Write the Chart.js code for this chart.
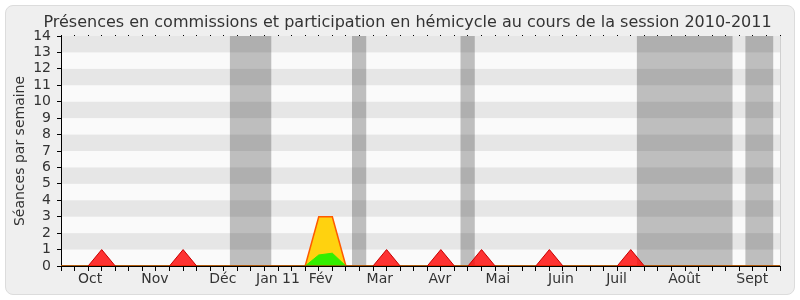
<!DOCTYPE html>
<html>
<head>
<meta charset="utf-8">
<script src="https://cdn.jsdelivr.net/npm/chart.js"></script>
<style>
html, body { margin: 0; padding: 0; background: #fff; }
#wrap { position: relative; width: 800px; height: 300px; }
#panel { position: absolute; left: 5px; top: 5px; width: 788px; height: 288px; background: #efefef; border: 1px solid #dcdcdc; border-radius: 8px; }
#chart { position: absolute; left: 0; top: 0; }
</style>
</head>
<body>
<div id="wrap"><div id="panel"></div><canvas id="chart" width="800" height="300"></canvas></div>
<script>
// weeks of the session, 0 = start of October 2010
let weeks = []
for (let i = 0; i <= 53; i++) weeks.push(i)

let title = 'Présences en commissions et participation en hémicycle au cours de la session 2010-2011'
let monthLabels = ['Oct','Nov','Déc','Jan 11','Fév','Mar','Avr','Mai','Juin','Juil','Août','Sept']
let monthPos = [2.14, 6.92, 11.93, 15.99, 19.15, 23.5, 27.93, 32.2, 36.85, 40.95, 45.95, 50.95]

// parliamentary holidays (in weeks)
let vacStart = [12.45, 21.45, 29.45, 42.45, 50.45]
let vacEnd   = [15.5, 22.5, 30.5, 49.5, 52.5]

let hemicycle = [0,0,0,1,0,0,0,0,0,1,
                 0,0,0,0,0,0,0,0,0,0,
                 0,0,0,0,1,0,0,0,1,0,
                 0,1,0,0,0,0,1,0,0,0,
                 0,0,1,0,0,0,0,0,0,0,
                 0,0,0,0]
let commissions = [0,0,0,0,0,0,0,0,0,0,
                   0,0,0,0,0,0,0,0,0,3,
                   3,0,0,0,0,0,0,0,0,0,
                   0,0,0,0,0,0,0,0,0,0,
                   0,0,0,0,0,0,0,0,0,0,
                   0,0,0,0]
let interventions = [0,0,0,0,0,0,0,0,0,0,
                     0,0,0,0,0,0,0,0,0,0.67,
                     0.78,0,0,0,0,0,0,0,0,0,
                     0,0,0,0,0,0,0,0,0,0,
                     0,0,0,0,0,0,0,0,0,0,
                     0,0,0,0]

const FONT = 'DejaVu Sans'
const pts = arr => arr.map((v, i) => ({x: weeks[i], y: v}))

const backdrop = {
  id: 'backdrop',
  beforeDraw(chart) {
    const {ctx, chartArea: a, scales: {x, y}} = chart
    ctx.save()
    ctx.fillStyle = '#fafafa'
    ctx.fillRect(a.left, a.top, a.right - a.left, a.bottom - a.top)
    ctx.fillStyle = '#bebebe'
    vacStart.forEach((s, i) => {
      const x0 = x.getPixelForValue(s), x1 = x.getPixelForValue(vacEnd[i])
      ctx.fillRect(x0, a.top, x1 - x0, a.bottom - a.top)
    })
    ctx.fillStyle = 'rgba(0,0,0,0.08)'
    for (let v = 1; v < 14; v += 2) {
      const y0 = y.getPixelForValue(v + 1), y1 = y.getPixelForValue(v)
      ctx.fillRect(a.left, y0, a.right - a.left, y1 - y0)
    }
    ctx.strokeStyle = '#d0d0d0'
    ctx.beginPath()
    ctx.moveTo(a.right + 0.5, a.top)
    ctx.lineTo(a.right + 0.5, a.bottom)
    ctx.stroke()
    ctx.restore()
  },
  afterDraw(chart) {
    const ctx = chart.ctx
    ctx.save()
    ctx.font = '16px "' + FONT + '"'
    ctx.fillStyle = '#333'
    ctx.textAlign = 'center'
    ctx.textBaseline = 'alphabetic'
    ctx.fillText(title, 407.5, 26.7)
    ctx.restore()
  }
}

let chart = new Chart(document.getElementById('chart'), {
  type: 'line',
  data: {
    datasets: [
      {label: 'Hémicycle', data: pts(hemicycle), fill: 'origin',
       backgroundColor: 'rgba(255,0,0,0.8)', borderColor: '#c80000', borderWidth: 1},
      {label: 'Interventions', data: pts(interventions), fill: 'origin',
       backgroundColor: '#33ee00', borderColor: '#33ee00', borderWidth: 1},
      {label: 'Commissions', data: pts(commissions), fill: 'origin',
       backgroundColor: '#ffd20f', borderColor: '#ff5a00', borderWidth: 1.5}
    ]
  },
  options: {
    responsive: false,
    animation: false,
    layout: {padding: {left: 0, right: 20, top: 35, bottom: 0}},
    elements: {point: {radius: 0}, line: {tension: 0}},
    plugins: {
      legend: {display: false},
      tooltip: {enabled: false}
    },
    scales: {
      x: {type: 'linear', min: 0, max: 53,
          afterBuildTicks(s) { s.ticks = weeks.map(v => ({value: v})) },
          ticks: {display: false},
          grid: {drawOnChartArea: false, tickLength: 5, color: '#000'},
          border: {color: '#000'},
          afterFit(s) { s.height = 5 }},
      xm: {type: 'linear', position: 'bottom', weight: 1, min: 0, max: 53,
           afterBuildTicks(s) { s.ticks = monthPos.map(v => ({value: v})) },
           ticks: {autoSkip: false, maxRotation: 0, padding: 0, color: '#333',
                   font: {family: FONT, size: 14},
                   callback: (v, i) => monthLabels[i]},
           grid: {display: false, drawTicks: false}, border: {display: false},
           afterFit(s) { s.height = 29 }},
      xt: {type: 'linear', position: 'top', min: 0, max: 53,
           afterBuildTicks(s) { s.ticks = weeks.map(v => ({value: v})) },
           ticks: {display: false},
           grid: {drawOnChartArea: false, tickLength: 1, color: '#000'},
           border: {display: false},
           afterFit(s) { s.height = 1 }},
      y: {min: 0, max: 14,
          ticks: {stepSize: 1, autoSkip: false, padding: 6, color: '#333', font: {family: FONT, size: 14}},
          grid: {drawOnChartArea: false, tickLength: 4, color: '#000'},
          border: {color: '#000'},
          title: {display: true, text: 'Séances par semaine', color: '#333',
                  font: {family: FONT, size: 14}, padding: {top: 12, bottom: 0}},
          afterFit(s) { s.width = 61 }}
    }
  },
  plugins: [backdrop]
})
</script>
</body>
</html>
